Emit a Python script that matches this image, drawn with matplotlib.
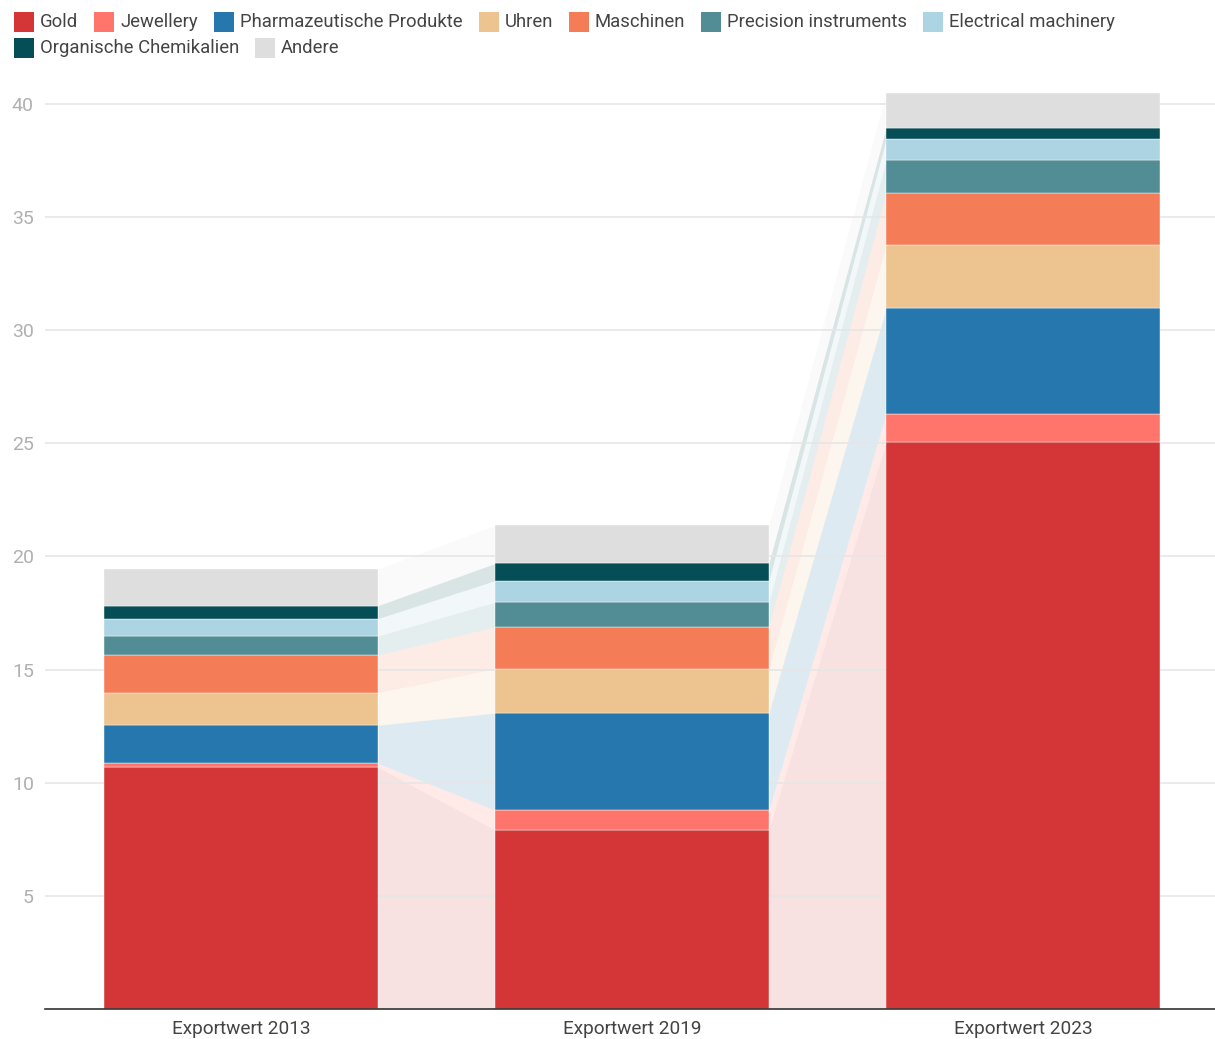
import matplotlib
matplotlib.use('Agg')
import matplotlib.pyplot as plt
import numpy as np
from matplotlib.patches import Rectangle

# Data section
years = ['Exportwert 2013', 'Exportwert 2019', 'Exportwert 2023']
categories = ['Gold', 'Jewellery', 'Pharmazeutische Produkte', 'Uhren', 'Maschinen',
              'Precision instruments', 'Electrical machinery', 'Organische Chemikalien', 'Andere']
gold = [10.68, 7.91, 25.07]
jewellery = [0.18, 0.88, 1.22]
pharma = [1.68, 4.29, 4.67]
uhren = [1.44, 1.96, 2.80]
maschinen = [1.66, 1.85, 2.29]
precision = [0.84, 1.09, 1.47]
electrical = [0.77, 0.95, 0.91]
organic = [0.57, 0.76, 0.51]
andere = [1.62, 1.68, 1.54]
yticks = [5, 10, 15, 20, 25, 30, 35, 40]

colors = ['#d43638', '#ff746b', '#2677ae', '#edc38f', '#f47c56',
          '#528d95', '#acd4e2', '#064e57', '#dedede']

plt.rcParams['font.family'] = ['Roboto', 'DejaVu Sans']

fig = plt.figure(figsize=(12.15, 10.39), dpi=100)
W, H = 1215, 1039
ax = fig.add_axes([45 / W, 1 - 1009 / H, 1170 / W, 0.9039])

series = [gold, jewellery, pharma, uhren, maschinen, precision, electrical, organic, andere]
x = np.arange(len(years))
bar_w = 0.70
bottom = np.zeros(len(years))

for vals, col in zip(series, colors):
    vals = np.array(vals)
    top = bottom + vals
    ax.bar(x, vals, bottom=bottom, width=bar_w, color=col, edgecolor='white',
           linewidth=0.3, zorder=2)
    # flows between neighbouring bars
    for i in range(len(years) - 1):
        xs = [x[i] + bar_w / 2, x[i + 1] - bar_w / 2]
        ax.fill_between(xs, [bottom[i], bottom[i + 1]], [top[i], top[i + 1]],
                        color=col, alpha=0.15, linewidth=0, zorder=0.2)
    bottom = top

ax.set_xlim(-0.501, 2.491)
ax.set_ylim(0, 41.5)
ax.set_xticks(x)
ax.set_xticklabels(years, fontsize=13.7, color='#444444')
ax.set_yticks(yticks)
ax.set_yticklabels([str(t) for t in yticks], fontsize=14, color='#b0b0b0')
ax.tick_params(axis='both', length=0)
ax.tick_params(axis='y', pad=8)
ax.tick_params(axis='x', pad=8)
ax.set_axisbelow(True)
ax.yaxis.grid(True, color='#e6e6e6', linewidth=1.2)
for side in ['top', 'right', 'left']:
    ax.spines[side].set_visible(False)
ax.spines['bottom'].set_color('#333333')
ax.spines['bottom'].set_linewidth(1.2)

# Legend laid out as flowing text across the top
renderer = fig.canvas.get_renderer()
px, py = 14, 22
for name, col in zip(categories, colors):
    t = fig.text(0, 0, name, fontsize=13.3, color='#444444', va='center', ha='left')
    tw = t.get_window_extent(renderer).width
    if px + 26 + tw > W - 5:
        px = 14
        py += 26
    fig.patches.append(Rectangle((px / W, 1 - (py + 10) / H), 20 / W, 20 / H,
                                 transform=fig.transFigure, facecolor=col,
                                 edgecolor='none', figure=fig))
    t.set_position(((px + 26) / W, 1 - py / H))
    px += 26 + tw + 16

fig.savefig('out.png', dpi=100)
